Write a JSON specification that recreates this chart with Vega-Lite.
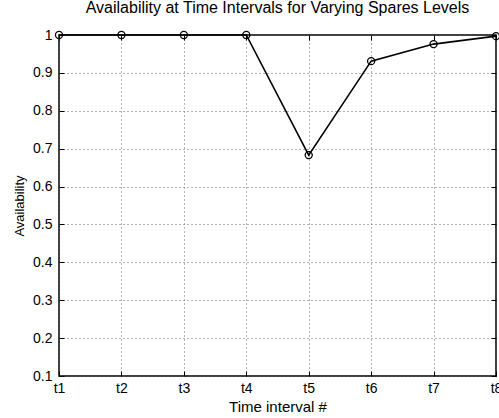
{
  "$schema": "https://vega.github.io/schema/vega-lite/v6.json",
  "autosize": "none",
  "width": 437,
  "height": 341,
  "padding": {"left": 59, "top": 35, "right": 3, "bottom": 42},
  "background": "white",
  "title": {"text": "Availability at Time Intervals for Varying Spares Levels", "font": "Liberation Sans", "fontSize": 16, "fontWeight": "normal", "color": "black", "offset": 12, "anchor": "middle"},
  "config": {
    "view": {"stroke": "black", "strokeWidth": 1.5},
    "axis": {"labelFont": "Liberation Sans", "titleFont": "Liberation Sans", "labelFontSize": 14, "titleFontSize": 15, "titleFontWeight": "normal", "labelColor": "black", "titleColor": "black", "domain": false, "tickColor": "black", "gridColor": "#555", "gridDash": [1, 3], "gridOpacity": 0.9}
  },
  "data": {"values": [
    {"t": "t1", "a": 1.0},
    {"t": "t2", "a": 1.0},
    {"t": "t3", "a": 1.0},
    {"t": "t4", "a": 1.0},
    {"t": "t5", "a": 0.683},
    {"t": "t6", "a": 0.931},
    {"t": "t7", "a": 0.976},
    {"t": "t8", "a": 0.997}
  ]},
  "layer": [
    {
      "mark": {"type": "line", "color": "black", "strokeWidth": 1.6},
      "encoding": {
        "x": {"field": "t", "type": "ordinal", "scale": {"type": "point", "padding": 0}, "sort": null,
          "axis": {"title": "Time interval #", "labelAngle": 0, "tickSize": -5, "labelPadding": 10, "titlePadding": 4, "grid": true}},
        "y": {"field": "a", "type": "quantitative", "scale": {"domain": [0.1, 1], "nice": false, "zero": false},
          "axis": {"title": "Availability", "titleFontSize": 13, "values": [0.1, 0.2, 0.3, 0.4, 0.5, 0.6, 0.7, 0.8, 0.9, 1.0], "format": ".1~f", "tickSize": -5, "labelPadding": 12, "titlePadding": 6, "grid": true}}
      }
    },
    {
      "mark": {"type": "point", "shape": "circle", "filled": false, "color": "black", "size": 50, "strokeWidth": 1.3, "opacity": 1},
      "encoding": {
        "x": {"field": "t", "type": "ordinal", "scale": {"type": "point", "padding": 0}, "sort": null,
          "axis": {"orient": "top", "labels": false, "title": null, "tickSize": -5, "grid": false}},
        "y": {"field": "a", "type": "quantitative", "scale": {"domain": [0.1, 1], "nice": false, "zero": false},
          "axis": {"orient": "right", "labels": false, "title": null, "values": [0.1, 0.2, 0.3, 0.4, 0.5, 0.6, 0.7, 0.8, 0.9, 1.0], "tickSize": -5, "grid": false}}
      }
    }
  ],
  "resolve": {"axis": {"x": "independent", "y": "independent"}}
}
